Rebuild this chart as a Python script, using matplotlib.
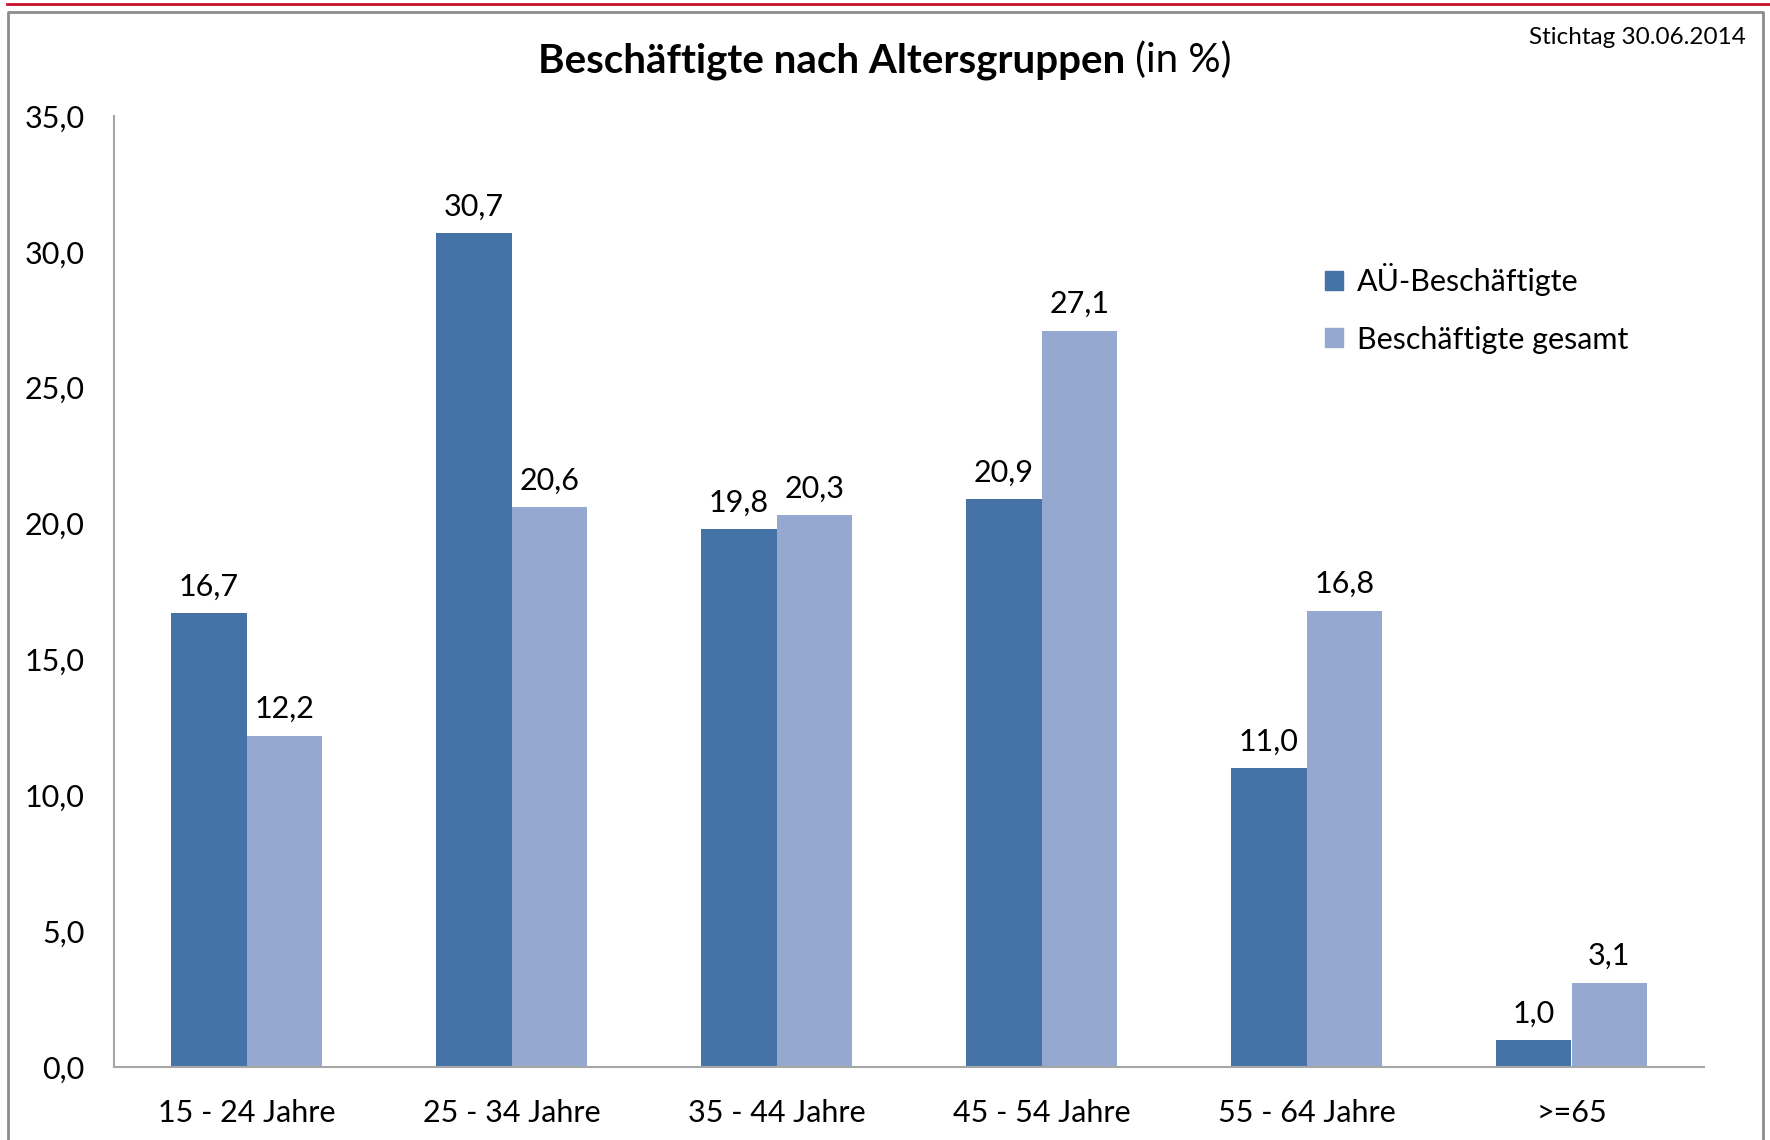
import matplotlib
matplotlib.use("Agg")
import matplotlib.pyplot as plt
import numpy as np
from matplotlib.lines import Line2D
from matplotlib.patches import Patch

categories = ["15 - 24 Jahre", "25 - 34 Jahre", "35 - 44 Jahre", "45 - 54 Jahre", "55 - 64 Jahre", ">=65"]
au_values = [16.7, 30.7, 19.8, 20.9, 11.0, 1.0]
gesamt_values = [12.2, 20.6, 20.3, 27.1, 16.8, 3.1]
series_names = ["AÜ-Beschäftigte", "Beschäftigte gesamt"]
yticks = [0, 5, 10, 15, 20, 25, 30, 35]

plt.rcParams['font.family'] = ['Lato', 'DejaVu Sans']

W, H = 1770, 1140
fig = plt.figure(figsize=(W / 100, H / 100), dpi=100)
fig.patch.set_facecolor("white")

ax = fig.add_axes([114 / W, 1 - 1067 / H, (1704 - 114) / W, (1067 - 116) / H])

dark = "#4673A7"
light = "#95A9D0"
x = np.arange(len(categories))
bw = 1 / 3.5
b1 = ax.bar(x - bw / 2, au_values, bw, color=dark, label=series_names[0])
b2 = ax.bar(x + bw / 2, gesamt_values, bw, color=light, label=series_names[1])

fmt = lambda v: f"{v:.1f}".replace(".", ",")
for bars, vals in ((b1, au_values), (b2, gesamt_values)):
    for r, v in zip(bars, vals):
        ax.annotate(fmt(v), (r.get_x() + r.get_width() / 2, v), xytext=(0, 9),
                    textcoords="offset points", ha="center", va="bottom", fontsize=22)

ax.set_xlim(-0.5, len(categories) - 0.5)
ax.set_ylim(0, 35)
ax.set_yticks(yticks)
ax.set_yticklabels([fmt(v) for v in yticks], fontsize=22)
ax.set_xticks(x)
ax.set_xticklabels(categories, fontsize=22)
ax.tick_params(axis="y", length=0, pad=21)
ax.tick_params(axis="x", length=0, pad=23)
for s in ("top", "right"):
    ax.spines[s].set_visible(False)
for s in ("left", "bottom"):
    ax.spines[s].set_color("#A6A6A6")
    ax.spines[s].set_linewidth(1.5)

handles = [Patch(color=dark), Patch(color=light)]
leg = ax.legend(handles, series_names, loc="upper left", bbox_to_anchor=(1297 / W, 1 - 236 / H),
                bbox_transform=fig.transFigure, frameon=False, fontsize=22,
                handlelength=0.6, handleheight=0.6, handletextpad=0.45, labelspacing=0.95)

# Title: bold part + normal part
fig.canvas.draw()
r = fig.canvas.get_renderer()
t1 = fig.text(0, 0, "Beschäftigte nach Altersgruppen", fontsize=29, fontweight="bold")
t2 = fig.text(0, 0, " (in %)", fontsize=29)
w1 = t1.get_window_extent(r).width
w2 = t2.get_window_extent(r).width
cx = 885
y0 = 1 - 72 / H
t1.set_position(((cx - (w1 + w2) / 2) / W, y0))
t2.set_position(((cx - (w1 + w2) / 2 + w1) / W, y0))

fig.text(1746 / W, 1 - 38 / H, "Stichtag 30.06.2014", fontsize=17.5, ha="right", va="center")

# frame and red top line
fig.add_artist(Line2D([7 / W, 1], [1 - 3.5 / H, 1 - 3.5 / H], transform=fig.transFigure, color="#C8102E", lw=2))
fig.add_artist(Line2D([8 / W, 8 / W, 1763 / W, 1763 / W], [0, 1 - 11.5 / H, 1 - 11.5 / H, 0],
                      transform=fig.transFigure, color="#8C8C8C", lw=2))

fig.savefig("out.png", dpi=100)
